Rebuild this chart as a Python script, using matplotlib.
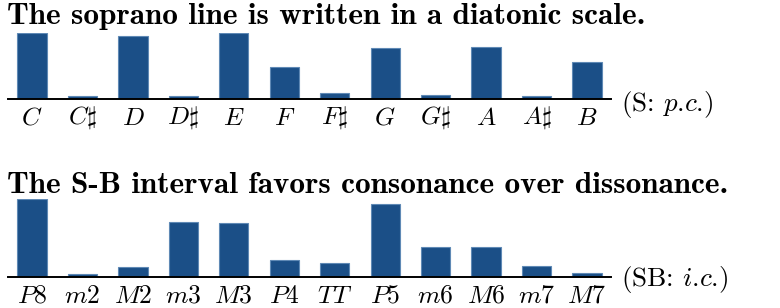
import matplotlib
matplotlib.use('Agg')
import matplotlib.pyplot as plt

plt.rcParams['mathtext.fontset'] = 'cm'

# share of soprano notes per pitch class (%)
PITCHES = ['C', r'C\sharp', 'D', r'D\sharp', 'E', 'F', r'F\sharp', 'G', r'G\sharp', 'A', r'A\sharp', 'B']
PITCH_SHARE = [17.1, 0.8, 16.4, 0.8, 17.1, 8.3, 1.5, 13.2, 1.0, 13.6, 0.7, 9.6]

# share of soprano-bass intervals per interval class (%)
INTERVALS = ['P8', 'm2', 'M2', 'm3', 'M3', 'P4', 'TT', 'P5', 'm6', 'M6', 'm7', 'M7']
INTERVAL_SHARE = [20.3, 0.8, 2.7, 14.5, 14.2, 4.6, 3.7, 19.1, 8.0, 8.0, 3.0, 1.0]

BAR_COLOR = '#1b4f87'
EDGE_COLOR = '#5f89b5'
W, H = 780, 308
PX_PER_UNIT = 3.84


def panel(fig, base_px, labels, values, title, title_base_px, side_label, side_dy):
    height_px = max(values) * PX_PER_UNIT
    ax = fig.add_axes([8 / W, 1 - base_px / H, 603 / W, height_px / H])
    x = range(len(values))
    ax.bar(x, values, width=0.58, color=BAR_COLOR, edgecolor=EDGE_COLOR, linewidth=0.8)
    ax.set_xlim(-0.475, len(values) - 0.525)
    ax.set_ylim(0, max(values))
    for side in ('top', 'right', 'left'):
        ax.spines[side].set_visible(False)
    ax.spines['bottom'].set_linewidth(1.4)
    ax.set_yticks([])
    ax.set_xticks(list(x))
    ax.set_xticklabels([f'${l}$' for l in labels], fontsize=18.5)
    ax.tick_params(axis='x', length=0, pad=4)
    ax.set_facecolor('none')
    fig.text(7 / W, 1 - title_base_px / H, title, family='cmb10', fontsize=22.5,
             va='baseline', ha='left')
    fig.text(621 / W, 1 - (base_px + side_dy) / H, side_label, family='cmr10',
             fontsize=19.5, va='center', ha='left')
    return ax


fig = plt.figure(figsize=(W / 100, H / 100), dpi=100)
panel(fig, 99, PITCHES, PITCH_SHARE,
      'The soprano line is written in a diatonic scale.', 23.5,
      '(S: $p$.$c$.)', 5)
panel(fig, 277.3, INTERVALS, INTERVAL_SHARE,
      'The S-B interval favors consonance over dissonance.', 193,
      '(SB: $i$.$c$.)', 2)
fig.savefig('out.png', dpi=100)
